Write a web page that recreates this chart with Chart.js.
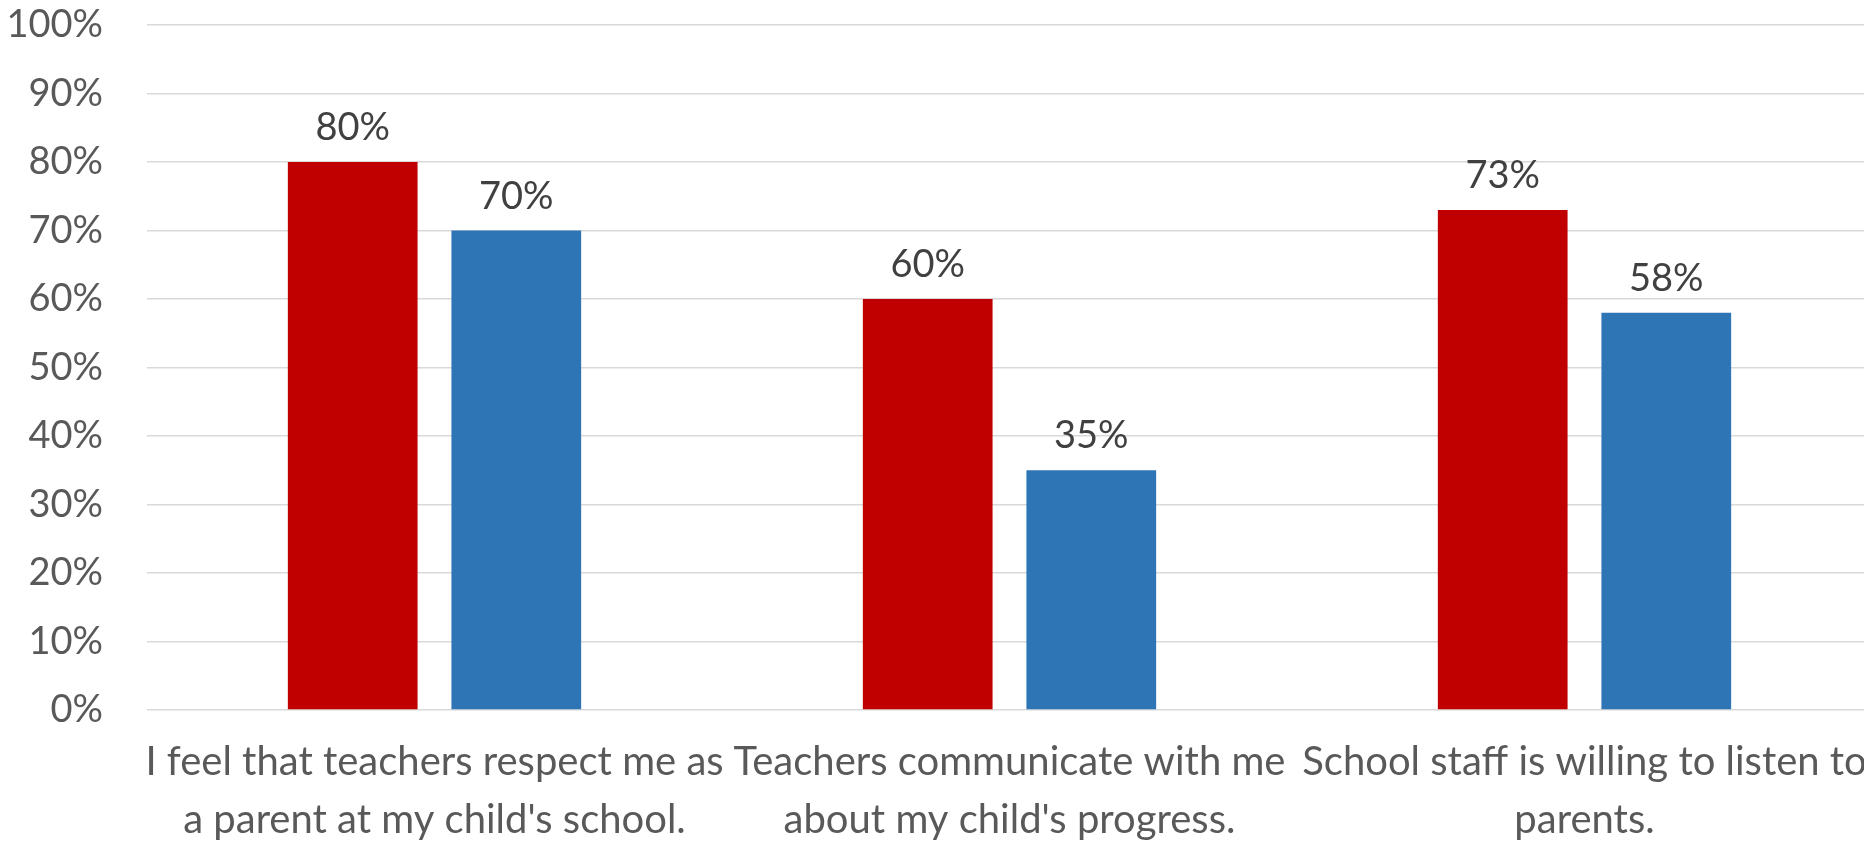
<!DOCTYPE html>
<html>
<head>
<meta charset="utf-8">
<script src="https://cdn.jsdelivr.net/npm/chart.js@4"></script>
<style>
  html, body { margin: 0; padding: 0; background: #fff; overflow: hidden; }
  #wrap { position: relative; width: 1872px; height: 841px; }
</style>
</head>
<body>
<div id="wrap"><canvas id="c"></canvas></div>
<script>
const categories = [
  ["I feel that teachers respect me as", "a parent at my child's school."],
  ["Teachers communicate with me", "about my child's progress."],
  ["School staff is willing to listen to", "parents."]
];
const seriesRed = [80, 60, 73];
const seriesBlue = [70, 35, 58];
const yTicks = [0, 10, 20, 30, 40, 50, 60, 70, 80, 90, 100];

const FONT = "Lato";

const valueLabels = {
  id: 'valueLabels',
  afterDatasetsDraw(chart) {
    const ctx = chart.ctx;
    ctx.save();
    ctx.font = `38px ${FONT}`;
    ctx.fillStyle = '#404040';
    ctx.textAlign = 'center';
    ctx.textBaseline = 'alphabetic';
    chart.data.datasets.forEach((ds, i) => {
      chart.getDatasetMeta(i).data.forEach((bar, j) => {
        ctx.fillText(ds.data[j] + '%', bar.x, bar.y - 22);
      });
    });
    ctx.restore();
  }
};

function zeroPad(scale) {
  scale.paddingTop = 0; scale.paddingBottom = 0;
  scale.paddingLeft = 0; scale.paddingRight = 0;
}

new Chart(document.getElementById('c'), {
  type: 'bar',
  data: {
    labels: categories,
    datasets: [
      { label: 'Series 1', data: seriesRed, backgroundColor: '#C00000', categoryPercentage: 0.569, barPercentage: 0.793 },
      { label: 'Series 2', data: seriesBlue, backgroundColor: '#2E75B6', categoryPercentage: 0.569, barPercentage: 0.793 }
    ]
  },
  options: {
    responsive: true,
    maintainAspectRatio: false,
    animation: false,
    layout: { padding: { top: 25, right: 0, bottom: 0, left: 0 } },
    plugins: { legend: { display: false }, tooltip: { enabled: false } },
    scales: {
      x: {
        grid: { display: false, drawTicks: false },
        border: { display: false },
        ticks: {
          color: '#595959',
          font: { family: FONT, size: 40, lineHeight: 1.45 },
          padding: 23,
          autoSkip: false,
          maxRotation: 0,
          minRotation: 0
        },
        afterFit(scale) { scale.height = 131; zeroPad(scale); }
      },
      y: {
        min: 0,
        max: 100,
        afterBuildTicks(scale) { scale.ticks = yTicks.map(v => ({ value: v })); },
        grid: { color: '#D9D9D9', lineWidth: 1.5, drawTicks: false },
        border: { display: false },
        ticks: {
          color: '#595959',
          font: { family: FONT, size: 38 },
          padding: 44,
          callback: v => v + '%'
        },
        afterFit(scale) { scale.width = 147; zeroPad(scale); }
      }
    }
  },
  plugins: [valueLabels]
});
</script>
</body>
</html>
